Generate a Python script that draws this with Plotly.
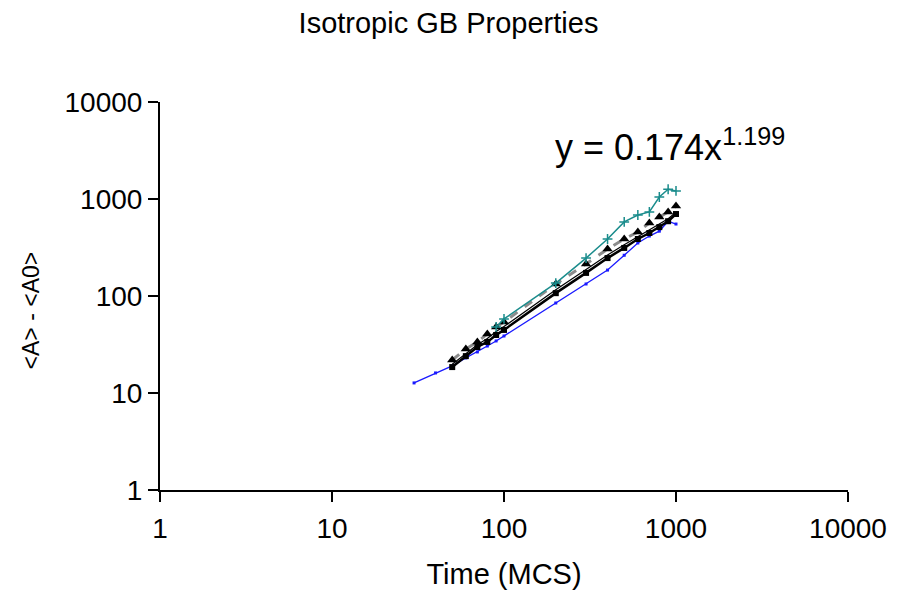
import plotly.graph_objects as go

# Time steps (MCS) and mean area growth for each run
t_blue = [30, 40, 50, 60, 70, 80, 90, 100, 200, 300, 400, 500, 600, 700, 800, 900, 1000]
a_blue = [12.7, 16.1, 19.0, 23.0, 26.5, 30.5, 34.4, 38.7, 84.7, 133, 185, 263, 352, 415, 466, 590, 552]

t_teal = [90, 100, 200, 300, 400, 500, 600, 700, 800, 900, 1000]
a_teal = [48, 58, 136, 246, 387, 580, 684, 735, 1048, 1260, 1210]

t_tri = [50, 60, 70, 80, 90, 100, 200, 300, 400, 500, 600, 700, 800, 900, 1000]
a_tri = [21.9, 28.4, 33.6, 40.5, 48, 54, 133, 214, 305, 387, 457, 566, 652, 735, 847]

t_sq = [50, 60, 70, 80, 90, 100, 200, 300, 400, 500, 600, 700, 800, 900, 1000]
a_sq = [18.5, 24.0, 29.8, 33.6, 39.6, 44.7, 107, 173, 246, 313, 387, 446, 513, 590, 700]

t_thin = [50, 60, 70, 80, 90, 100, 200, 300, 400, 500, 600, 700, 800, 900, 1000]
a_thin = [19.8, 25.5, 31.5, 36.5, 43, 48.5, 116, 188, 265, 338, 410, 478, 548, 625, 730]

x_ticks = [1, 10, 100, 1000, 10000]
y_ticks = [1, 10, 100, 1000, 10000]

fig = go.Figure()

fig.add_trace(go.Scatter(x=t_blue, y=a_blue, mode="lines+markers",
                         line=dict(color="#1a1aff", width=1.3),
                         marker=dict(symbol="square", size=3, color="#1a1aff")))
fig.add_trace(go.Scatter(x=t_tri, y=a_tri, mode="lines+markers",
                         line=dict(color="#8c8c8c", width=3, dash="dash"),
                         marker=dict(symbol="triangle-up", size=9, color="black")))
fig.add_trace(go.Scatter(x=t_thin, y=a_thin, mode="lines",
                         line=dict(color="black", width=1.2)))
fig.add_trace(go.Scatter(x=t_sq, y=a_sq, mode="lines+markers",
                         line=dict(color="black", width=2.5),
                         marker=dict(symbol="square", size=6, color="black")))
fig.add_trace(go.Scatter(x=t_teal, y=a_teal, mode="lines+markers",
                         line=dict(color="#1a8c8c", width=1.5),
                         marker=dict(symbol="cross-thin", size=7,
                                     line=dict(color="#1a8c8c", width=1.5))))

# Power-law fit label
fig.add_annotation(xref="paper", yref="paper", x=0.571, y=0.89,
                   xanchor="left", yanchor="middle", showarrow=False,
                   text="y = 0.174x<sup>1.199</sup>",
                   font=dict(size=36, color="black"))

# Vertical axis title
fig.add_annotation(xref="paper", yref="paper", x=-0.188, y=0.462,
                   xanchor="center", yanchor="middle", showarrow=False,
                   textangle=-90, text="&lt;A&gt; - &lt;A0&gt;",
                   font=dict(size=23, color="black"))

axis_common = dict(type="log", range=[0, 4], showgrid=False, zeroline=False,
                   showline=True, linecolor="black", linewidth=2,
                   ticks="outside", ticklen=10, tickwidth=2, tickcolor="black",
                   tickfont=dict(size=28, color="black"), automargin=False)

fig.update_xaxes(**axis_common,
                 tickvals=x_ticks, ticktext=[str(v) for v in x_ticks],
                 ticklabelstandoff=2,
                 title=dict(text="Time (MCS)", font=dict(size=29, color="black"), standoff=27))
fig.update_yaxes(**axis_common,
                 tickvals=y_ticks, ticktext=[str(v) for v in y_ticks])

fig.update_layout(
    width=897, height=590,
    margin=dict(l=160, r=49, t=102, b=100),
    paper_bgcolor="white", plot_bgcolor="white",
    showlegend=False,
    font=dict(family="Liberation Sans, Arial, sans-serif", color="black"),
    title=dict(text="Isotropic GB Properties", x=0.5, xanchor="center",
               y=0.962, yanchor="middle", font=dict(size=29, color="black")),
)

fig.write_html("out.html")
